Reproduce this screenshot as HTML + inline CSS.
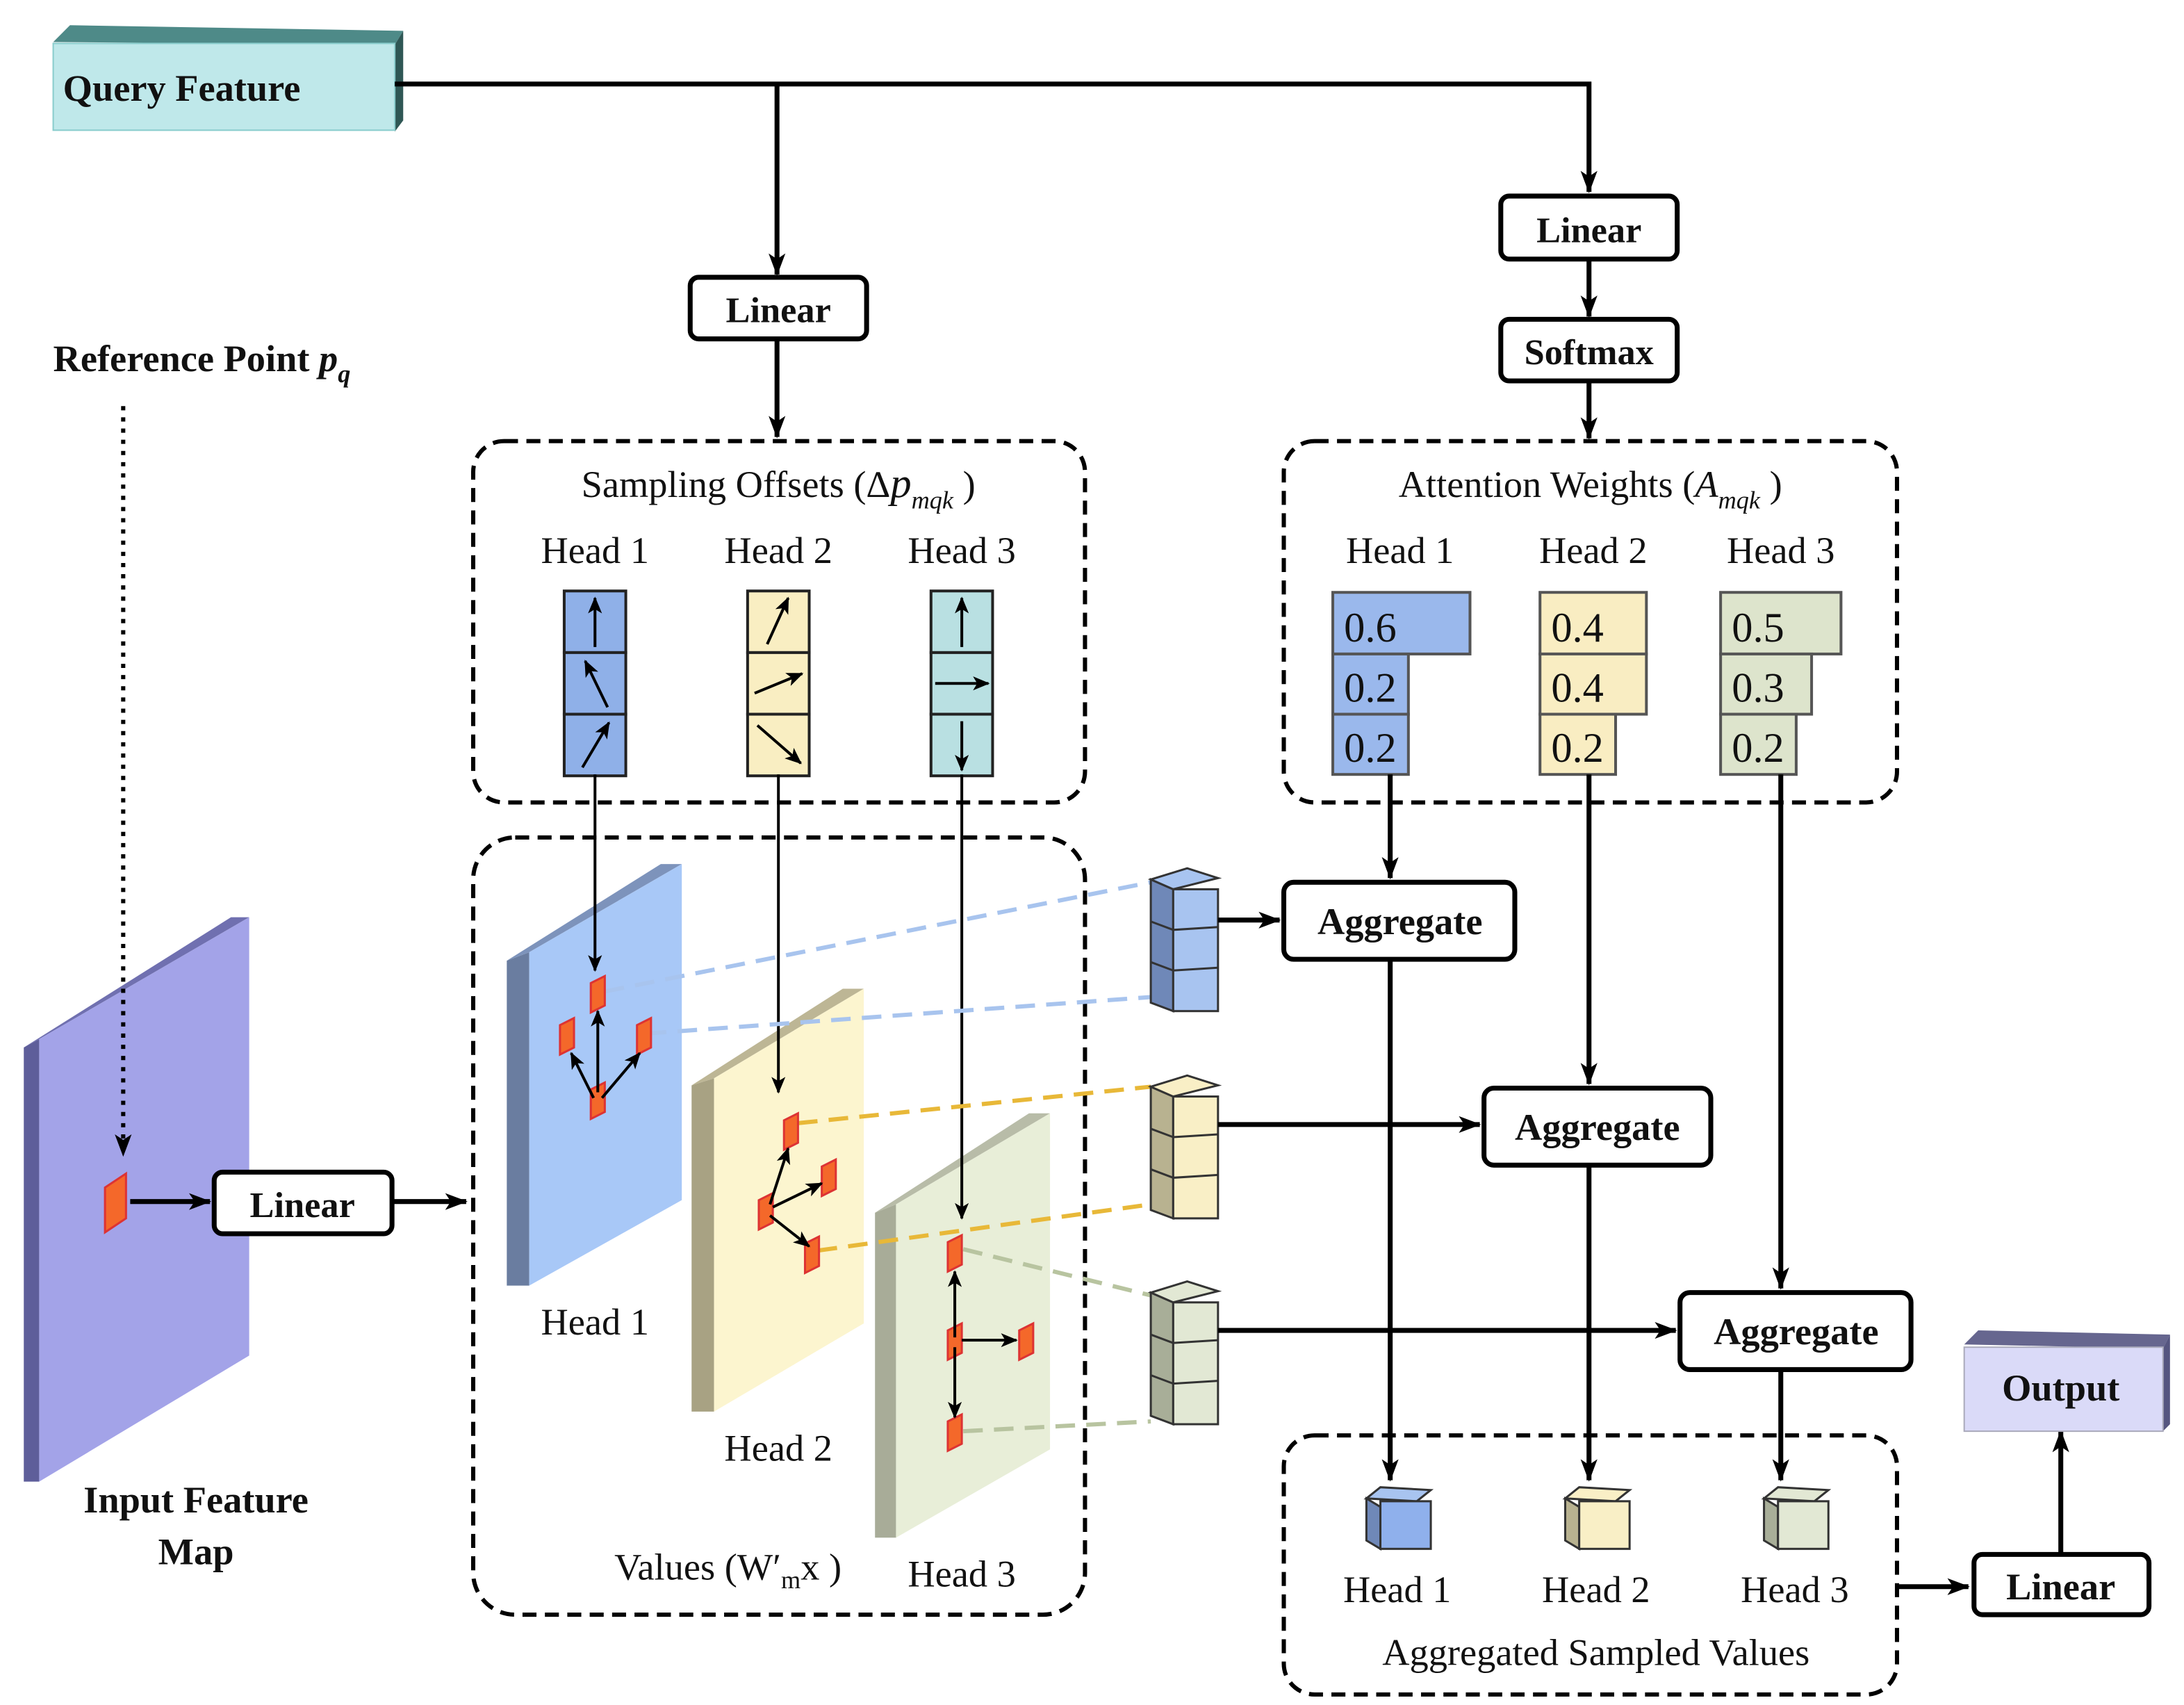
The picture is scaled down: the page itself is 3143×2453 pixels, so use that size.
<!DOCTYPE html>
<html><head><meta charset="utf-8"><style>
html,body{margin:0;padding:0;background:#fff}
svg{display:block}
text{font-family:"Liberation Serif",serif;fill:#111}
.b{font-weight:bold}
</style></head><body>
<svg width="3143" height="2453" viewBox="0 0 1560 1217.5" preserveAspectRatio="none" xmlns="http://www.w3.org/2000/svg">
<defs>
<marker id="a" markerUnits="userSpaceOnUse" markerWidth="16" markerHeight="12" refX="15" refY="6" orient="auto"><path d="M0,0 L16,6 L0,12 L4,6z" fill="#000"/></marker>
<marker id="s" markerUnits="userSpaceOnUse" markerWidth="12" markerHeight="10" refX="11" refY="5" orient="auto"><path d="M0,0 L12,5 L0,10 L3,5z" fill="#000"/></marker>
</defs>
<rect width="1560" height="1217.5" fill="#fff"/>

<!-- Query Feature -->
<polygon points="38,30 50,18 288,22 282,32" fill="#4e8a88"/>
<polygon points="282,32 288,22 288,86 282,94" fill="#2f5755"/>
<rect x="38" y="31" width="244" height="62" fill="#bfe8ea" stroke="#8cc" stroke-width="1"/>
<text x="45" y="72" font-size="27" class="b">Query Feature</text>

<!-- top connectors -->
<g stroke="#000" stroke-width="3.5" fill="none">
<polyline points="282,60 1135,60 1135,137" marker-end="url(#a)"/>
<line x1="555" y1="60" x2="555" y2="196" marker-end="url(#a)"/>
<line x1="555" y1="242" x2="555" y2="312" marker-end="url(#a)"/>
<line x1="1135" y1="185" x2="1135" y2="226" marker-end="url(#a)"/>
<line x1="1135" y1="272" x2="1135" y2="313" marker-end="url(#a)"/>
</g>
<g stroke="#000" stroke-width="3.5" fill="#fff">
<rect x="493" y="198" width="126" height="44" rx="6"/>
<rect x="1072" y="140" width="126" height="45" rx="6"/>
<rect x="1072" y="228" width="126" height="44" rx="6"/>
</g>
<text x="556" y="230" font-size="26" class="b" text-anchor="middle">Linear</text>
<text x="1135" y="173" font-size="26" class="b" text-anchor="middle">Linear</text>
<text x="1135" y="260" font-size="26" class="b" text-anchor="middle">Softmax</text>

<!-- Reference point -->
<text x="38" y="265" font-size="27" class="b">Reference Point <tspan font-style="italic">p</tspan><tspan font-style="italic" font-size="18" dy="8">q</tspan></text>

<!-- dashed boxes -->
<g fill="none" stroke="#000" stroke-width="3" stroke-dasharray="10,6">
<rect x="338" y="315" width="437" height="258" rx="22"/>
<rect x="917" y="315" width="438" height="258" rx="22"/>
<rect x="338" y="598" width="437" height="555" rx="30"/>
<rect x="917" y="1025" width="438" height="185" rx="22"/>
</g>
<text x="556" y="355" font-size="27" text-anchor="middle">Sampling Offsets (Δ<tspan font-style="italic" font-size="30">p</tspan><tspan font-style="italic" font-size="18" dy="8">mqk</tspan><tspan dy="-8"> )</tspan></text>
<text x="1136" y="355" font-size="27" text-anchor="middle">Attention Weights (<tspan font-style="italic">A</tspan><tspan font-style="italic" font-size="18" dy="8">mqk</tspan><tspan dy="-8"> )</tspan></text>
<g font-size="27" text-anchor="middle">
<text x="425" y="402">Head 1</text><text x="556" y="402">Head 2</text><text x="687" y="402">Head 3</text>
<text x="1000" y="402">Head 1</text><text x="1138" y="402">Head 2</text><text x="1272" y="402">Head 3</text>
</g>

<!-- offset stacks -->
<g stroke="#222" stroke-width="2">
<rect x="403" y="422" width="44" height="44" fill="#8fb0e8"/><rect x="403" y="466" width="44" height="44" fill="#8fb0e8"/><rect x="403" y="510" width="44" height="44" fill="#8fb0e8"/>
<rect x="534" y="422" width="44" height="44" fill="#f9eec2"/><rect x="534" y="466" width="44" height="44" fill="#f9eec2"/><rect x="534" y="510" width="44" height="44" fill="#f9eec2"/>
<rect x="665" y="422" width="44" height="44" fill="#b9e0e2"/><rect x="665" y="466" width="44" height="44" fill="#b9e0e2"/><rect x="665" y="510" width="44" height="44" fill="#b9e0e2"/>
</g>
<g stroke="#000" stroke-width="2" marker-end="url(#s)">
<line x1="425" y1="462" x2="425" y2="427"/>
<line x1="434" y1="505" x2="418" y2="472"/>
<line x1="416" y1="548" x2="435" y2="516"/>
<line x1="548" y1="460" x2="563" y2="427"/>
<line x1="539" y1="495" x2="573" y2="481"/>
<line x1="541" y1="518" x2="572" y2="545"/>
<line x1="687" y1="462" x2="687" y2="427"/>
<line x1="668" y1="488" x2="706" y2="488"/>
<line x1="687" y1="515" x2="687" y2="550"/>
</g>

<!-- attention bars -->
<g stroke="#555" stroke-width="2">
<rect x="952" y="423" width="98" height="44" fill="#9ab8ec"/><rect x="952" y="467" width="54" height="43" fill="#9ab8ec"/><rect x="952" y="510" width="54" height="43" fill="#9ab8ec"/>
<rect x="1100" y="423" width="76" height="44" fill="#f9edc2"/><rect x="1100" y="467" width="76" height="43" fill="#f9edc2"/><rect x="1100" y="510" width="54" height="43" fill="#f9edc2"/>
<rect x="1229" y="423" width="86" height="44" fill="#dde4cc"/><rect x="1229" y="467" width="65" height="43" fill="#dde4cc"/><rect x="1229" y="510" width="54" height="43" fill="#dde4cc"/>
</g>
<g font-size="30">
<text x="960" y="458">0.6</text><text x="960" y="501">0.2</text><text x="960" y="544">0.2</text>
<text x="1108" y="458">0.4</text><text x="1108" y="501">0.4</text><text x="1108" y="544">0.2</text>
<text x="1237" y="458">0.5</text><text x="1237" y="501">0.3</text><text x="1237" y="544">0.2</text>
</g>

<!-- input feature map -->
<polygon points="17,748 28,742 28,1058 17,1058" fill="#5e5e9a"/>
<polygon points="17,748 165,655 178,655 28,742" fill="#7070b0"/>
<polygon points="28,742 178,655 178,968 28,1058" fill="#a3a3e8"/>
<line x1="88" y1="290" x2="88" y2="825" stroke="#000" stroke-width="3" stroke-dasharray="3,5" marker-end="url(#a)"/>
<polygon points="75,848 90,838 90,870 75,880" fill="#f4682a" stroke="#d33" stroke-width="1.5"/>
<line x1="93" y1="858" x2="150" y2="858" stroke="#000" stroke-width="3.5" marker-end="url(#a)"/>
<rect x="153" y="837" width="127" height="44" rx="6" fill="#fff" stroke="#000" stroke-width="3.5"/>
<text x="216" y="869" font-size="26" class="b" text-anchor="middle">Linear</text>
<line x1="280" y1="858" x2="333" y2="858" stroke="#000" stroke-width="3.5" marker-end="url(#a)"/>
<text x="140" y="1080" font-size="27" class="b" text-anchor="middle">Input Feature</text>
<text x="140" y="1117" font-size="27" class="b" text-anchor="middle">Map</text>

<!-- value planes -->
<polygon points="362,686 378,680 378,918 362,918" fill="#6a7da0"/>
<polygon points="362,686 472,617 487,617 378,680" fill="#7d93bb"/>
<polygon points="378,680 487,617 487,857 378,918" fill="#a8c8f7"/>
<polygon points="494,775 510,770 510,1008 494,1008" fill="#a8a283"/>
<polygon points="494,775 602,706 617,706 510,770" fill="#bdb695"/>
<polygon points="510,770 617,706 617,945 510,1008" fill="#fcf5cf"/>
<polygon points="625,866 640,860 640,1098 625,1098" fill="#a8ac98"/>
<polygon points="625,866 735,795 750,795 640,860" fill="#b8bca8"/>
<polygon points="640,860 750,795 750,1035 640,1098" fill="#e8eed8"/>

<!-- down lines from offsets -->
<g stroke="#000" stroke-width="2">
<line x1="425" y1="553" x2="425" y2="693" marker-end="url(#s)"/>
<line x1="556" y1="553" x2="556" y2="780" marker-end="url(#s)"/>
<line x1="687" y1="553" x2="687" y2="870" marker-end="url(#s)"/>
</g>

<!-- dashed lines to cubes -->
<g stroke-width="3" stroke-dasharray="14,8" fill="none">
<line x1="432" y1="708" x2="822" y2="630" stroke="#a8c4ee"/>
<line x1="462" y1="738" x2="822" y2="712" stroke="#a8c4ee"/>
<line x1="570" y1="802" x2="822" y2="776" stroke="#e8b838"/>
<line x1="584" y1="893" x2="822" y2="860" stroke="#e8b838"/>
<line x1="688" y1="892" x2="822" y2="925" stroke="#b8c4a0"/>
<line x1="688" y1="1022" x2="822" y2="1015" stroke="#b8c4a0"/>
</g>

<!-- sample points -->
<g fill="#f4682a" stroke="#d33" stroke-width="1.5">
<polygon points="422,702 432,697 432,718 422,723"/>
<polygon points="400,732 410,727 410,748 400,753"/>
<polygon points="455,732 465,727 465,748 455,753"/>
<polygon points="422,778 432,773 432,794 422,799"/>
<polygon points="560,800 570,795 570,816 560,821"/>
<polygon points="587,833 597,828 597,849 587,854"/>
<polygon points="542,857 552,852 552,873 542,878"/>
<polygon points="575,888 585,883 585,904 575,909"/>
<polygon points="677,887 687,882 687,903 677,908"/>
<polygon points="677,950 687,945 687,966 677,971"/>
<polygon points="728,950 738,945 738,966 728,971"/>
<polygon points="677,1015 687,1010 687,1031 677,1036"/>
</g>
<g stroke="#000" stroke-width="2" marker-end="url(#s)">
<line x1="427" y1="780" x2="427" y2="722"/>
<line x1="424" y1="784" x2="408" y2="752"/>
<line x1="430" y1="784" x2="457" y2="752"/>
<line x1="550" y1="860" x2="563" y2="820"/>
<line x1="552" y1="862" x2="587" y2="845"/>
<line x1="550" y1="868" x2="578" y2="890"/>
<line x1="682" y1="955" x2="682" y2="908"/>
<line x1="687" y1="957" x2="726" y2="957"/>
<line x1="682" y1="962" x2="682" y2="1012"/>
</g>
<g font-size="27" text-anchor="middle">
<text x="425" y="953">Head 1</text>
<text x="556" y="1043">Head 2</text>
<text x="687" y="1133">Head 3</text>
<text x="520" y="1128">Values (W′<tspan font-size="18" dy="6">m</tspan><tspan dy="-6">x )</tspan></text>
</g>

<!-- cube stacks -->
<g stroke="#333" stroke-width="1.5">
<polygon points="822,628 838,635 838,722 822,716" fill="#6f88b8"/>
<polygon points="822,628 848,620 870,627 838,635" fill="#a8c4f0"/>
<rect x="838" y="635" width="32" height="87" fill="#a8c4f0"/>
<line x1="838" y1="664" x2="870" y2="662"/><line x1="838" y1="693" x2="870" y2="691"/>
<line x1="822" y1="658" x2="838" y2="664"/><line x1="822" y1="687" x2="838" y2="693"/>

<polygon points="822,776 838,783 838,870 822,864" fill="#b8b290"/>
<polygon points="822,776 848,768 870,775 838,783" fill="#f9efc6"/>
<rect x="838" y="783" width="32" height="87" fill="#f9efc6"/>
<line x1="838" y1="812" x2="870" y2="810"/><line x1="838" y1="841" x2="870" y2="839"/>
<line x1="822" y1="806" x2="838" y2="812"/><line x1="822" y1="835" x2="838" y2="841"/>

<polygon points="822,923 838,930 838,1017 822,1011" fill="#a8ae98"/>
<polygon points="822,923 848,915 870,922 838,930" fill="#e2e8d4"/>
<rect x="838" y="930" width="32" height="87" fill="#e2e8d4"/>
<line x1="838" y1="959" x2="870" y2="957"/><line x1="838" y1="988" x2="870" y2="986"/>
<line x1="822" y1="953" x2="838" y2="959"/><line x1="822" y1="982" x2="838" y2="988"/>
</g>

<!-- aggregate connectors -->
<g stroke="#000" stroke-width="3.5">
<line x1="870" y1="657" x2="914" y2="657" marker-end="url(#a)"/>
<line x1="870" y1="803" x2="1057" y2="803" marker-end="url(#a)"/>
<line x1="870" y1="950" x2="1197" y2="950" marker-end="url(#a)"/>
<line x1="993" y1="553" x2="993" y2="627" marker-end="url(#a)"/>
<line x1="1135" y1="553" x2="1135" y2="774" marker-end="url(#a)"/>
<line x1="1272" y1="553" x2="1272" y2="920" marker-end="url(#a)"/>
<line x1="993" y1="685" x2="993" y2="1057" marker-end="url(#a)"/>
<line x1="1135" y1="832" x2="1135" y2="1057" marker-end="url(#a)"/>
<line x1="1272" y1="978" x2="1272" y2="1057" marker-end="url(#a)"/>
<line x1="1355" y1="1133" x2="1406" y2="1133" marker-end="url(#a)"/>
<line x1="1472" y1="1110" x2="1472" y2="1022" marker-end="url(#a)"/>
</g>
<g stroke="#000" stroke-width="3.5" fill="#fff">
<rect x="917" y="630" width="165" height="55" rx="7"/>
<rect x="1060" y="777" width="162" height="55" rx="7"/>
<rect x="1200" y="923" width="165" height="55" rx="7"/>
<rect x="1410" y="1110" width="125" height="43" rx="6"/>
</g>
<g font-size="27" class="b" text-anchor="middle">
<text x="1000" y="667">Aggregate</text>
<text x="1141" y="814">Aggregate</text>
<text x="1283" y="960">Aggregate</text>
<text x="1472" y="1142">Linear</text>
</g>

<!-- output -->
<polygon points="1403,960 1413,950 1550,953 1545,963" fill="#66668f"/>
<polygon points="1545,963 1550,953 1550,1017 1545,1022" fill="#555580"/>
<rect x="1403" y="962" width="142" height="60" fill="#dadaf8" stroke="#aab" stroke-width="1"/>
<text x="1472" y="1000" font-size="27" class="b" text-anchor="middle">Output</text>

<!-- aggregated cubes -->
<g stroke="#333" stroke-width="1.5">
<polygon points="976,1070 986,1062 1022,1064 1012,1072" fill="#a8c4f0"/>
<polygon points="976,1070 986,1076 986,1106 976,1100" fill="#6f88b8"/>
<rect x="986" y="1072" width="36" height="34" fill="#8fb0ec"/>
<polygon points="1118,1070 1128,1062 1164,1064 1154,1072" fill="#f9efc6"/>
<polygon points="1118,1070 1128,1076 1128,1106 1118,1100" fill="#b8b290"/>
<rect x="1128" y="1072" width="36" height="34" fill="#f9efc6"/>
<polygon points="1260,1070 1270,1062 1306,1064 1296,1072" fill="#e2e8d4"/>
<polygon points="1260,1070 1270,1076 1270,1106 1260,1100" fill="#a8ae98"/>
<rect x="1270" y="1072" width="36" height="34" fill="#e2e8d4"/>
</g>
<g font-size="27" text-anchor="middle">
<text x="998" y="1144">Head 1</text><text x="1140" y="1144">Head 2</text><text x="1282" y="1144">Head 3</text>
<text x="1140" y="1189">Aggregated Sampled Values</text>
</g>
</svg>
</body></html>
